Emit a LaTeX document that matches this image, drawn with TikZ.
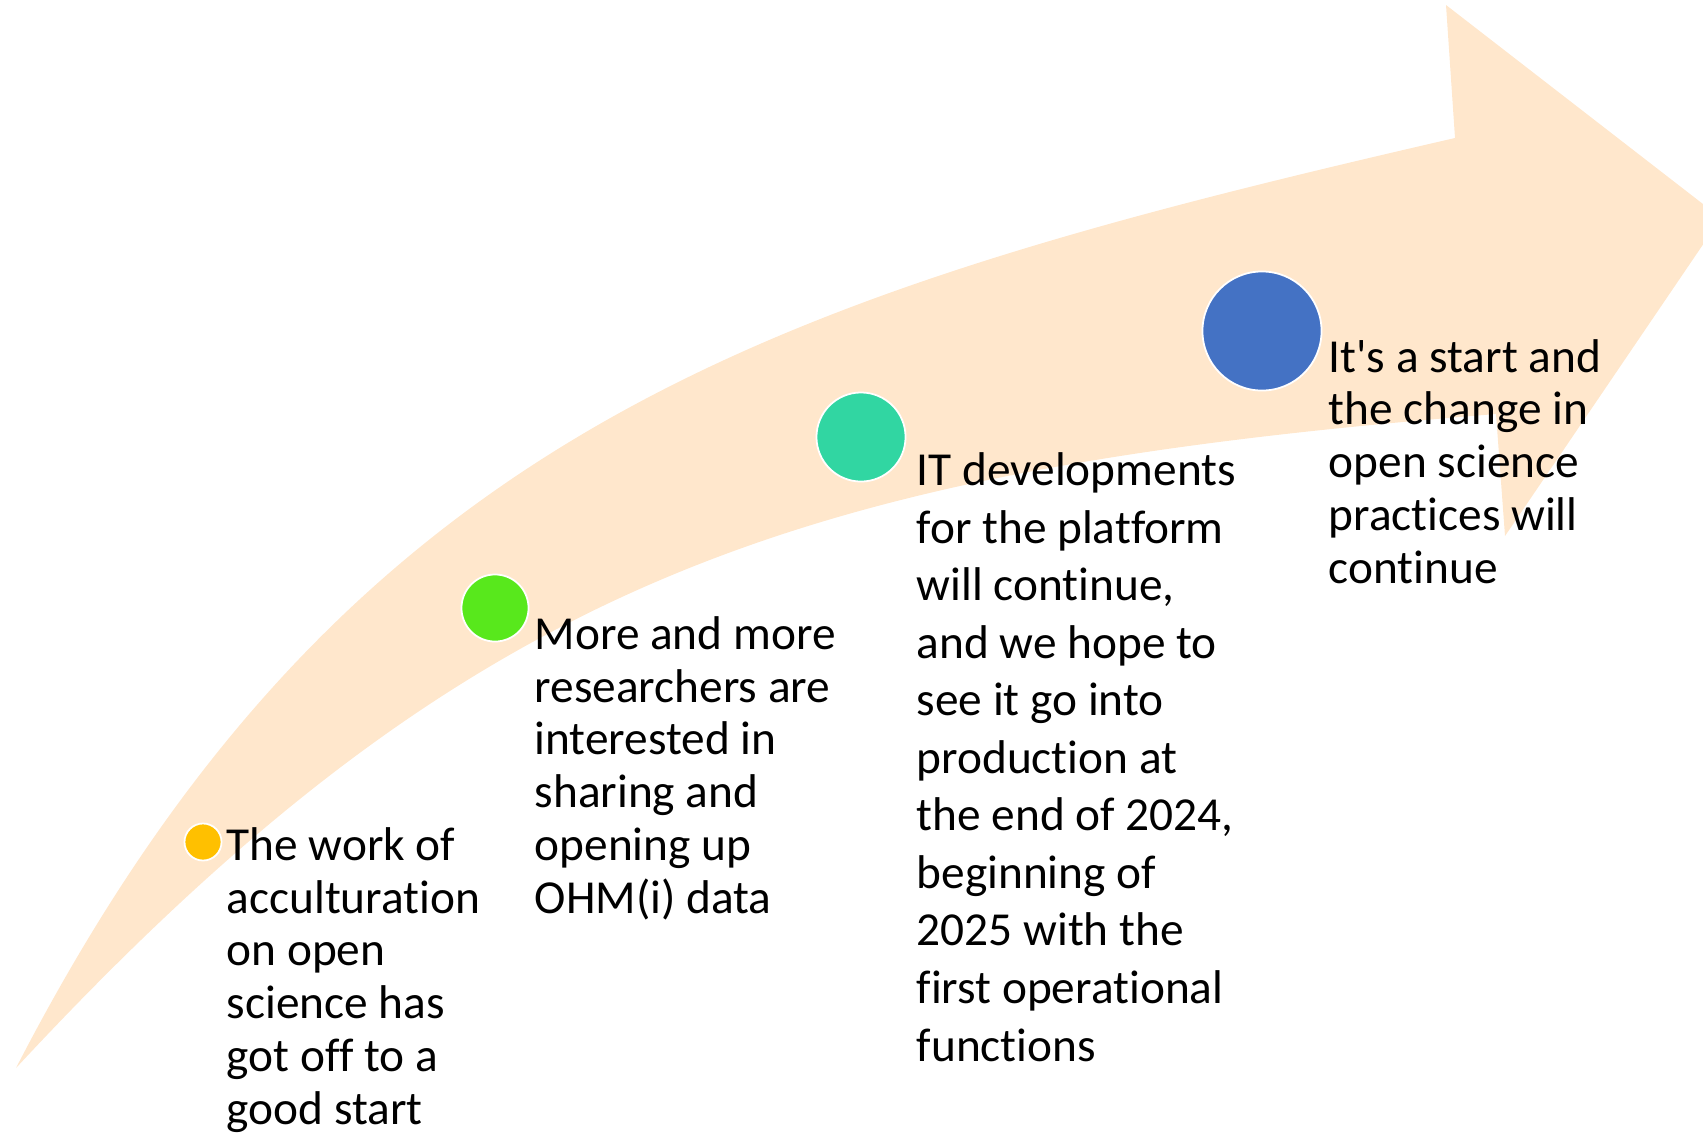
\documentclass[tikz,border=0pt]{standalone}
\usepackage{fontspec}
\setmainfont{Carlito}[Ligatures=NoCommon]
\usepackage{tikz}
\definecolor{arrowpeach}{HTML}{FFE7CC}
\definecolor{dotyellow}{HTML}{FFC000}
\definecolor{dotgreen}{HTML}{58E81C}
\definecolor{dotteal}{HTML}{31D6A2}
\definecolor{dotblue}{HTML}{4472C4}

\begin{document}
\begin{tikzpicture}[
  x=0.01cm, y=-0.01cm,
  milestone/.style={circle, draw=white, line width=0.5pt, inner sep=0pt},
  stagetext/.style={anchor=base west, align=left, inner sep=0pt, text=black, font=\fontsize{13.46}{15}\selectfont},
]
  \useasboundingbox (0,0) rectangle (1703,1133);

  % big curved arrow
  \fill[arrowpeach] (16,1068) .. controls (346,428) and (773,295) .. (1455,138)
    -- (1446,5) -- (1721,218) -- (1505,536) -- (1496,414)
    .. controls (798,470) and (472,577) .. (16,1068) -- cycle;

  % milestones
  \node[milestone, fill=dotyellow, minimum size=0.37cm] (m1) at (203,842) {};
  \node[milestone, fill=dotgreen,  minimum size=0.67cm] (m2) at (495,608) {};
  \node[milestone, fill=dotteal,   minimum size=0.89cm] (m3) at (861,437) {};
  \node[milestone, fill=dotblue,   minimum size=1.19cm] (m4) at (1262,331) {};

  % texts (anchored on the last line)
  \node[stagetext] (t1) at (226,1124) {The work of\\acculturation\\on open\\science has\\got off to a\\good start};
  \node[stagetext] (t2) at (534,913) {More and more\\researchers are\\interested in\\sharing and\\opening up\\OHM(i) data};
  \node[stagetext, font=\fontsize{13.46}{16.36}\selectfont] (t3) at (916,1061) {IT developments\\for the platform\\will continue,\\and we hope to\\see it go into\\production at\\the end of 2024,\\beginning of\\2025 with the\\first operational\\functions};
  \node[stagetext] (t4) at (1328,583) {It\textquotesingle s a start and\\the change in\\open science\\practices will\\continue};
\end{tikzpicture}
\end{document}
